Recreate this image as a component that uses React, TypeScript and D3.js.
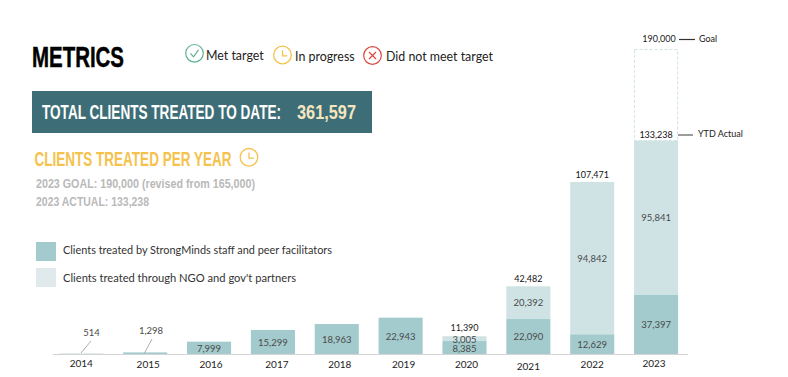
import React from "react";
import * as d3 from "d3";

const years = ["2014","2015","2016","2017","2018","2019","2020","2021","2022","2023"];
const staff = [514,1298,7999,15299,18963,22943,8385,22090,12629,37397];
const partners = [0,0,0,0,0,0,3005,20392,94842,95841];
const totals = [0,0,0,0,0,0,11390,42482,107471,133238];
const goal = 190000;
const keyItems = ["Met target","In progress","Did not meet target"];
const legendItems = ["Clients treated by StrongMinds staff and peer facilitators","Clients treated through NGO and gov't partners"];

const TEAL = "#a3cacc", LIGHT = "#cfe3e5", INK = "#4a4a4a";
const BODY = "Lato, 'Open Sans', sans-serif";
const COND = "'Liberation Sans', sans-serif";

const x = d3.scaleBand<string>().domain(years).range([49.4, 688]).paddingInner(0.31).paddingOuter(0.155);
const y = d3.scaleLinear().domain([0, goal]).range([354.5, 49.5]);
const fmt = d3.format(",");

// small nudges of the year labels as they sit in the reference
const yearDy = [-1,0,0,0,0,0,0,2,0,-1];
const yearDx = [0,3,2,4,3,3,2,0,0,-2];

const Clock = ({cx, cy, r}: {cx:number; cy:number; r:number}) => (
  <g fill="none" stroke="#f5c24c" strokeWidth={1.3}>
    <circle cx={cx} cy={cy} r={r} />
    <path d={`M${cx},${cy-r*0.55}V${cy+r*0.1}H${cx+r*0.55}`} />
  </g>
);

const Squeezed = (p: {x:number; y:number; len:number; size:number; fill:string; stroke?:boolean; children:string}) => (
  <text x={p.x} y={p.y} fontFamily={COND} fontWeight={700} fontSize={p.size} fill={p.fill}
    stroke={p.stroke ? p.fill : undefined} strokeWidth={p.stroke ? 0.5 : undefined}
    textLength={p.len} lengthAdjust="spacingAndGlyphs">{p.children}</text>
);

export default function App() {
  const w = x.bandwidth();
  const cx = (yr: string) => x(yr)! + w / 2;
  const last = years[years.length - 1];
  return (
    <svg width={788} height={377} style={{position:"absolute", left:0, top:0, background:"#fff"}}>
      <Squeezed x={32} y={66.5} len={92} size={30} fill="#000" stroke>METRICS</Squeezed>

      <g fontFamily={BODY} fontSize={12.4} fill="#222">
        <circle cx={194.5} cy={53.3} r={8.8} fill="none" stroke="#5fb094" strokeWidth={1.2}/>
        <path d="M190.5,53.3 l3,3.5 l5,-7" fill="none" stroke="#5fb094" strokeWidth={1.2}/>
        <text x={206} y={60}>{keyItems[0]}</text>
        <Clock cx={282.5} cy={55} r={8.8}/>
        <text x={295} y={61}>{keyItems[1]}</text>
        <circle cx={372.5} cy={55.5} r={8.8} fill="none" stroke="#d9473f" strokeWidth={1.2}/>
        <path d="M369,52 l7,7 m0,-7 l-7,7" fill="none" stroke="#d9473f" strokeWidth={1.2}/>
        <text x={386} y={61}>{keyItems[2]}</text>
      </g>

      <rect x={32} y={91} width={340} height={42} fill="#3d6d76"/>
      <Squeezed x={42} y={118.5} len={239} size={21} fill="#fff">TOTAL CLIENTS TREATED TO DATE:</Squeezed>
      <Squeezed x={297} y={118.5} len={59} size={21} fill="#f3e6c0">361,597</Squeezed>

      <Squeezed x={34.5} y={166} len={197} size={20} fill="#f5c24c">CLIENTS TREATED PER YEAR</Squeezed>
      <Clock cx={249} cy={157.3} r={8.8}/>
      <Squeezed x={36} y={188} len={219} size={13.5} fill="#b9b9b9">2023 GOAL: 190,000 (revised from 165,000)</Squeezed>
      <Squeezed x={36} y={206} len={113} size={13.5} fill="#b9b9b9">2023 ACTUAL: 133,238</Squeezed>

      <rect x={36} y={242} width={20} height={19} fill={TEAL}/>
      <rect x={36} y={268} width={20} height={19} fill="#e0eaec"/>
      <g fontFamily={BODY} fontSize={11} fill="#333">
        <text x={63} y={254} textLength={269} lengthAdjust="spacingAndGlyphs">{legendItems[0]}</text>
        <text x={63} y={282} textLength={233} lengthAdjust="spacingAndGlyphs">{legendItems[1]}</text>
      </g>

      {/* goal outline */}
      <rect x={x(last)!+0.5} y={y(goal)} width={w-1} height={y(totals[9])-y(goal)} fill="none" stroke={LIGHT} strokeDasharray="3 2"/>

      {years.map((yr, i) => (
        <g key={yr}>
          <rect x={x(yr)} y={y(staff[i])} width={w} height={y(0)-y(staff[i])} fill={TEAL}/>
          {partners[i] > 0 && (
            <rect x={x(yr)} y={y(staff[i]+partners[i])} width={w} height={y(0)-y(partners[i])} fill={LIGHT}/>
          )}
        </g>
      ))}

      <line x1={53} x2={688} y1={354.5} y2={354.5} stroke="#d4d4d4" strokeWidth={1.2}/>

      <g fontFamily={BODY} fontSize={9.5} fill={INK} textAnchor="middle">
        {years.map((yr, i) => {
          if (i < 2) {
            return (
              <g key={yr}>
                <text x={i === 0 ? 91.5 : 151} y={i === 0 ? 336 : 334}>{fmt(staff[i])}</text>
                <line x1={i === 0 ? 81 : 144.5} y1={353} x2={i === 0 ? 91 : 152} y2={i === 0 ? 341 : 339} stroke="#999" strokeWidth={0.8}/>
              </g>
            );
          }
          if (i === 6) {
            return (
              <g key={yr}>
                <text x={cx(yr)} y={351.5}>{fmt(staff[i])}</text>
                <text x={cx(yr)} y={342.5}>{fmt(partners[i])}</text>
                <text x={cx(yr)} y={331} fontSize={9} fill="#222">{fmt(totals[i])}</text>
              </g>
            );
          }
          return (
            <g key={yr}>
              <text x={cx(yr)} y={(y(staff[i]) + y(0)) / 2 + 3.5}>{fmt(staff[i])}</text>
              {partners[i] > 0 && (
                <text x={cx(yr)} y={(y(staff[i]) + y(staff[i]+partners[i])) / 2 + 3.5}>{fmt(partners[i])}</text>
              )}
              {totals[i] > 0 && (
                <text x={cx(yr)} y={y(totals[i]) - (yr === last ? 2.5 : 4)} fontSize={9} fill="#111">{fmt(totals[i])}</text>
              )}
            </g>
          );
        })}
        {years.map((yr, i) => (
          <text key={yr} x={cx(yr) + yearDx[i]} y={368 + yearDy[i]} fontSize={10} fill="#222">{yr}</text>
        ))}
      </g>

      <g fontFamily={BODY} fontSize={9} fill="#222">
        <text x={659} y={42} textAnchor="middle">{fmt(goal)}</text>
        <line x1={679} x2={695} y1={39.5} y2={39.5} stroke="#333" strokeWidth={1.2}/>
        <text x={699} y={42}>Goal</text>
        <line x1={678} x2={693} y1={135} y2={135} stroke="#666" strokeWidth={1.3}/>
        <text x={698} y={137}>YTD Actual</text>
      </g>
    </svg>
  );
}
